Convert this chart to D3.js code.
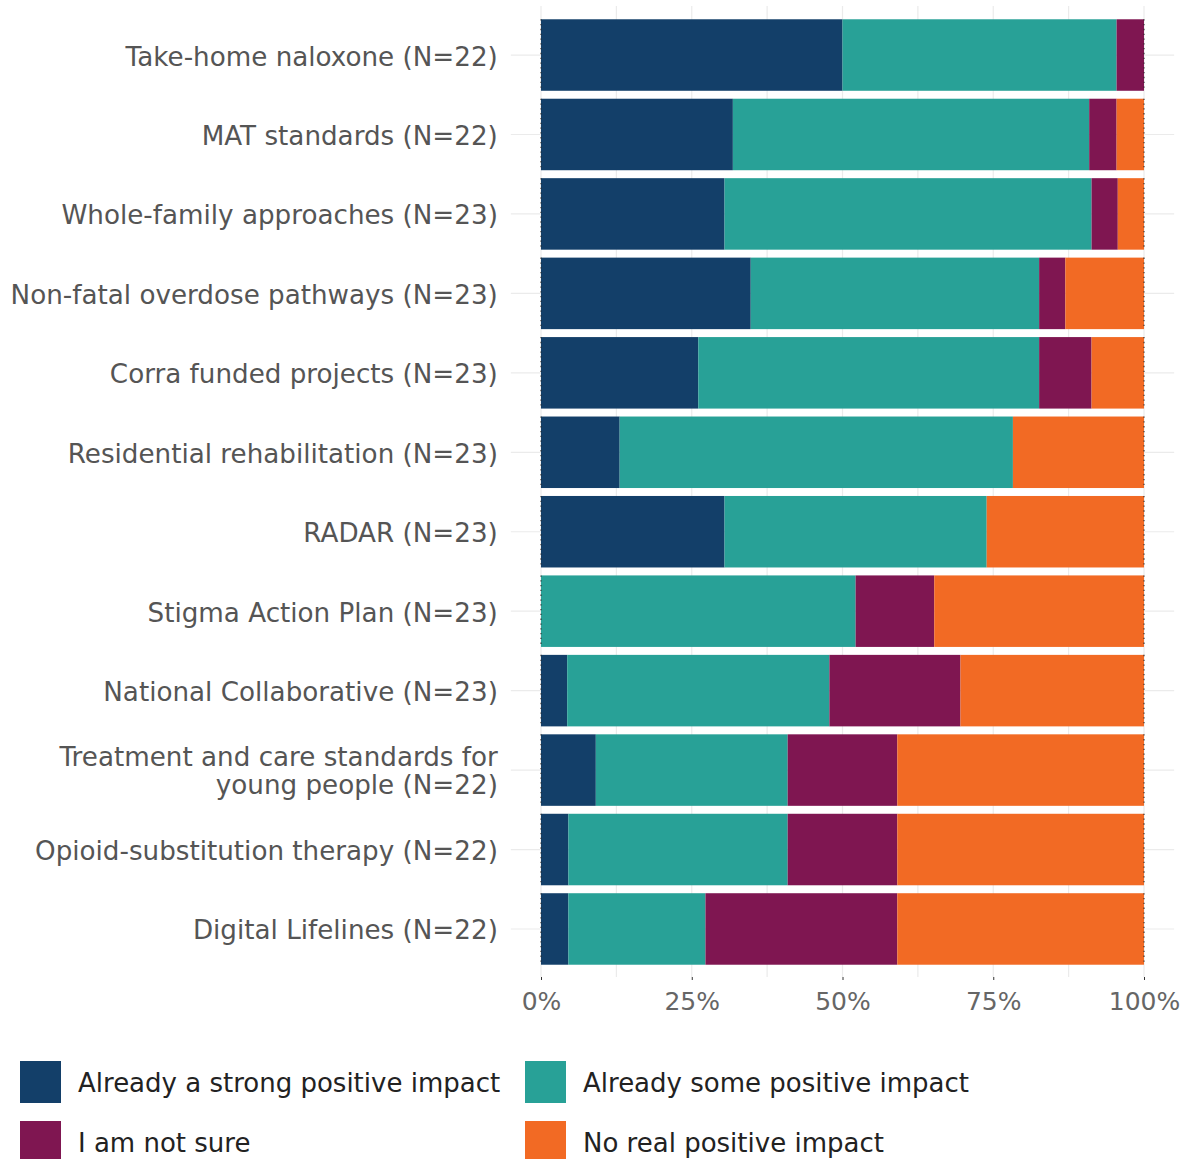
<!DOCTYPE html>
<html>
<head>
<script src="https://d3js.org/d3.v7.min.js"></script>
<style>
    body { margin: 0; background: #fff; }
    text { font-family: "DejaVu Sans", sans-serif; }
    .grid line { stroke: #ebebeb; stroke-width: 1.2px; }
</style>
</head>
<body>
<svg id="chart" width="1186" height="1159"></svg>

<script>
// Data: response counts
const categories = ["Take-home naloxone", "MAT standards", "Whole-family approaches",
    "Non-fatal overdose pathways", "Corra funded projects", "Residential rehabilitation",
    "RADAR", "Stigma Action Plan", "National Collaborative",
    "Treatment and care standards for\nyoung people", "Opioid-substitution therapy",
    "Digital Lifelines"];
const nResp   = [22, 22, 23, 23, 23, 23, 23, 23, 23, 22, 22, 22];
const strong  = [11, 7, 7, 8, 6, 3, 7, 0, 1, 2, 1, 1];
const some    = [10, 13, 14, 11, 13, 15, 10, 12, 10, 7, 8, 5];
const notSure = [1, 1, 1, 1, 2, 0, 0, 3, 5, 4, 4, 7];
const noReal  = [0, 1, 1, 3, 2, 5, 6, 8, 7, 9, 9, 9];

const keys = ["strong", "some", "notSure", "noReal"];
const keyLabels = ["Already a strong positive impact", "Already some positive impact",
    "I am not sure", "No real positive impact"];
const colors = ["#133f69", "#28a197", "#7f1651", "#f26a24"];
const xTicks = [0, 0.25, 0.5, 0.75, 1];

// build rows as shares
const rows = categories.map((c, i) => ({
    label: c + " (N=" + nResp[i] + ")",
    strong: strong[i] / nResp[i],
    some: some[i] / nResp[i],
    notSure: notSure[i] / nResp[i],
    noReal: noReal[i] / nResp[i]
}));

const svg = d3.select("#chart");

// Scales
const x = d3.scaleLinear().domain([0, 1]).range([541, 1144]);
const y = d3.scaleBand().domain(rows.map(d => d.label))
            .range([15.3, 968.7]).paddingInner(0.1).paddingOuter(0.05);
const color = d3.scaleOrdinal().domain(keys).range(colors);

const panelTop = 6, panelBottom = 977;

// Grid
const grid = svg.append("g").attr("class", "grid");
grid.selectAll("line.v").data(d3.range(0, 1.001, 0.125))
    .join("line").attr("class", "v")
    .attr("x1", d => x(d)).attr("x2", d => x(d))
    .attr("y1", panelTop).attr("y2", panelBottom);
grid.selectAll("line.h").data(rows)
    .join("line").attr("class", "h")
    .attr("x1", x(-0.05)).attr("x2", x(1.05))
    .attr("y1", d => y(d.label) + y.bandwidth() / 2)
    .attr("y2", d => y(d.label) + y.bandwidth() / 2);

// Stacked bars
const series = d3.stack().keys(keys)(rows);
svg.append("g").selectAll("g").data(series).join("g")
    .attr("fill", d => color(d.key))
    .selectAll("rect").data(d => d).join("rect")
    .attr("x", d => x(d[0]))
    .attr("width", d => x(d[1]) - x(d[0]))
    .attr("y", d => y(d.data.label))
    .attr("height", y.bandwidth());

// dotted bar edges
const edges = svg.append("g").attr("stroke", "#2b2b2b").attr("stroke-width", 1.3)
    .attr("stroke-dasharray", "1.3,3.5").attr("opacity", 0.8);
[0, 1].forEach(v => {
    edges.selectAll(null).data(rows).join("line")
        .attr("x1", x(v)).attr("x2", x(v))
        .attr("y1", d => y(d.label)).attr("y2", d => y(d.label) + y.bandwidth());
});

// X axis
const xAxis = svg.append("g").attr("transform", "translate(0," + panelBottom + ")")
    .call(d3.axisBottom(x).tickValues(xTicks).tickFormat(d3.format(".0%"))
        .tickSize(3).tickPadding(12));
xAxis.select(".domain").remove();
xAxis.selectAll(".tick line").attr("stroke", "#333");
xAxis.selectAll("text").attr("font-size", 25).attr("fill", "#666")
    .style("font-family", "DejaVu Sans");

// Y axis labels
const yAxis = svg.append("g").attr("transform", "translate(" + x(-0.05) + ",0)")
    .call(d3.axisLeft(y).tickSize(0).tickPadding(13));
yAxis.select(".domain").remove();
yAxis.selectAll("text").attr("font-size", 26.2).attr("fill", "#555")
    .attr("dy", "0.4em")
    .style("font-family", "DejaVu Sans")
    .each(function(d) {
        const parts = d.split("\n");
        if (parts.length > 1) {
            const t = d3.select(this).text(null).attr("dy", null);
            parts.forEach((p, i) => {
                t.append("tspan").attr("x", -13)
                 .attr("dy", i === 0 ? "-0.16em" : "1.08em").text(p);
            });
        }
    });

// Legend
const legend = svg.append("g");
const legPos = [[20, 1061], [525, 1061], [20, 1121], [525, 1121]];
keys.forEach((k, i) => {
    const g = legend.append("g").attr("transform", "translate(" + legPos[i][0] + "," + legPos[i][1] + ")");
    g.append("rect").attr("width", 41).attr("height", 42).attr("fill", color(k));
    g.append("text").attr("x", 58).attr("y", 21).attr("dy", "0.38em")
     .attr("font-size", 26).attr("fill", "#222").text(keyLabels[i]);
});
</script>
</body>
</html>
